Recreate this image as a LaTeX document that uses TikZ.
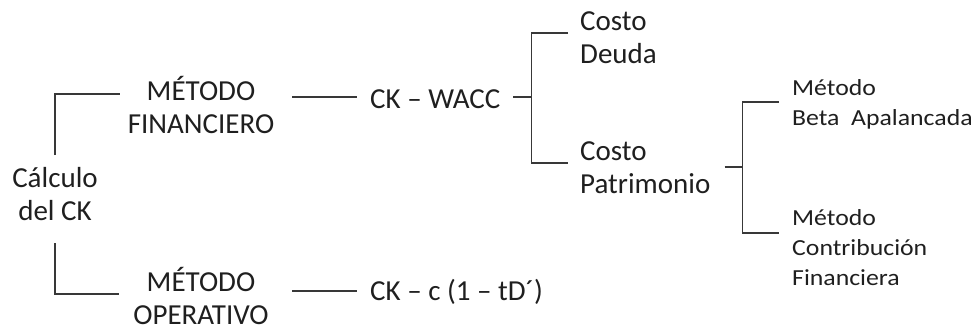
\documentclass[tikz,border=0pt]{standalone}
\usepackage{fontspec}
\setmainfont{Carlito}
\newfontfamily\widefont[FakeStretch=1.12]{Carlito}
\begin{document}
\begin{tikzpicture}[x=1pt,y=-1pt,
  lbl/.style={inner sep=0pt,text=black!88,font=\fontsize{29}{33}\selectfont},
  sml/.style={inner sep=0pt,text=black!88,font=\widefont\fontsize{23}{30}\selectfont},
  conn/.style={draw=black!78,line width=1.4pt}]
\useasboundingbox (0,0) rectangle (971,325);

% text blocks (anchored at the baseline of their last line)
\node[lbl,align=center,anchor=base] (calc) at (55,220) {Cálculo\\del CK};
\node[lbl,align=center,anchor=base] (mf) at (201,133) {MÉTODO\\FINANCIERO};
\node[lbl,align=center,anchor=base] (mo) at (201,324) {MÉTODO\\OPERATIVO};
\node[lbl,anchor=base west] (wacc) at (370,108) {CK – WACC};
\node[lbl,anchor=base west] (ckc) at (370,300) {CK – c (1 – tD´)};
\node[lbl,align=left,anchor=base west] (cd) at (580,63) {Costo\\Deuda};
\node[lbl,align=left,anchor=base west] (cp) at (580,193) {Costo\\Patrimonio};
\node[sml,align=left,anchor=base west] (mb) at (792,125) {Método\\Beta\ \ Apalancada};
\node[sml,align=left,anchor=base west] (mc) at (792,285) {Método\\Contribución\\Financiera};

% root bracket
\draw[conn] ([yshift=65pt]calc.base) |- ([xshift=-8pt,yshift=39pt]mf.base west);
\draw[conn] ([yshift=-23pt]calc.base) |- ([xshift=-14pt,yshift=30pt]mo.base west);

% method links
\draw[conn] ([xshift=18pt,yshift=11pt]wacc.base west -| mf.east) -- ([xshift=-13pt,yshift=11pt]wacc.base west);
\draw[conn] ([xshift=18pt,yshift=9pt]ckc.base west -| mf.east) -- ([xshift=-13pt,yshift=9pt]ckc.base west);

% cost bracket
\draw[conn] ([xshift=13pt,yshift=11pt]wacc.base east) -- ([xshift=31pt,yshift=11pt]wacc.base east);
\draw[conn] ([xshift=-12pt,yshift=30pt]cd.base west) -| ([xshift=31pt,yshift=11pt]wacc.base east)
  |- ([xshift=-12pt,yshift=30pt]cp.base west);

% equity bracket
\draw[conn] ([xshift=14pt,yshift=26pt]cp.base west -| cp.east) -- ([xshift=32pt,yshift=26pt]cp.base west -| cp.east);
\draw[conn] ([xshift=-13pt,yshift=23pt]mb.base west) -| ([xshift=32pt,yshift=26pt]cp.base west -| cp.east)
  |- ([xshift=-13pt,yshift=52pt]mc.base west);
\end{tikzpicture}
\end{document}
